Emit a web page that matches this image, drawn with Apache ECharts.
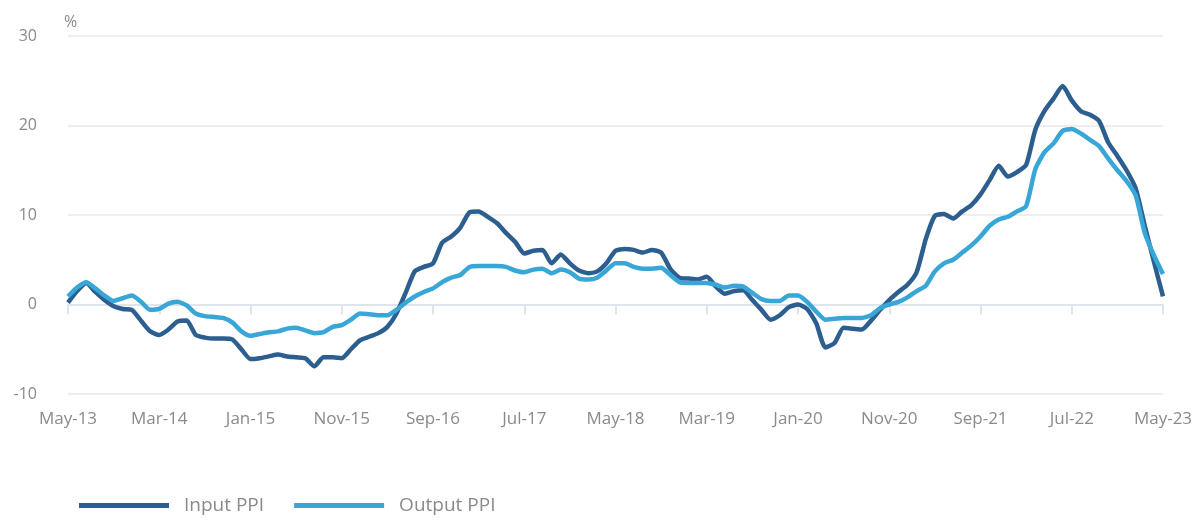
<!DOCTYPE html>
<html>
<head>
<meta charset="utf-8">
<script src="https://cdn.jsdelivr.net/npm/echarts@6/dist/echarts.min.js"></script>
<style>
  html, body { margin: 0; padding: 0; background: #ffffff; }
  #chart { width: 1204px; height: 522px; }
</style>
</head>
<body>
<div id="chart"></div>
<script>
// Monthly year-on-year change in producer price indices, May 2013 to May 2023 (%)
const monthNames = ['Jan','Feb','Mar','Apr','May','Jun','Jul','Aug','Sep','Oct','Nov','Dec'];
const startYear = 2013, startMonth = 4, monthCount = 121;

const categories = [];
for (let k = 0; k < monthCount; k++) {
  const m = (startMonth + k) % 12;
  const y = startYear + Math.floor((startMonth + k) / 12);
  categories.push(monthNames[m] + '-' + String(y % 100).padStart(2, '0'));
}

const inputPPI = [
  0.2, 1.5, 2.4, 1.4, 0.5, -0.2, -0.5, -0.6, -1.8, -3.0,
  -3.4, -2.8, -1.9, -1.8, -3.4, -3.7, -3.8, -3.8, -3.9, -5.0,
  -6.1, -6.0, -5.8, -5.6, -5.8, -5.9, -6.0, -6.9, -5.9, -5.9,
  -6.0, -5.0, -4.0, -3.6, -3.2, -2.5, -1.0, 1.3, 3.7, 4.2,
  4.6, 6.9, 7.6, 8.6, 10.3, 10.4, 9.8, 9.1, 8.0, 7.0,
  5.7, 6.0, 6.1, 4.6, 5.6, 4.6, 3.8, 3.5, 3.7, 4.6,
  6.0, 6.2, 6.1, 5.8, 6.1, 5.8, 4.0, 3.0, 2.9, 2.8,
  3.1, 2.0, 1.2, 1.5, 1.6, 0.5, -0.6, -1.7, -1.2, -0.3,
  0.0, -0.5, -2.1, -4.8, -4.3, -2.6, -2.7, -2.8, -1.8, -0.6,
  0.5, 1.4, 2.2, 3.6, 7.3, 9.9, 10.1, 9.6, 10.4, 11.1,
  12.3, 13.9, 15.5, 14.3, 14.8, 15.6, 19.5, 21.6, 23.0, 24.4,
  22.8, 21.6, 21.2, 20.5, 18.1, 16.6, 15.0, 13.0, 8.8, 4.8,
  0.9
];

const outputPPI = [
  0.9, 1.9, 2.5, 1.8, 1.0, 0.4, 0.7, 1.0, 0.3, -0.6,
  -0.5, 0.1, 0.3, -0.1, -1.0, -1.3, -1.4, -1.5, -2.0, -3.0,
  -3.5, -3.3, -3.1, -3.0, -2.7, -2.6, -2.9, -3.2, -3.1, -2.5,
  -2.3, -1.7, -1.0, -1.1, -1.2, -1.2, -0.6, 0.2, 0.9, 1.4,
  1.8, 2.5, 3.0, 3.3, 4.2, 4.3, 4.3, 4.3, 4.2, 3.8,
  3.6, 3.9, 4.0, 3.5, 3.9, 3.6, 2.9, 2.8, 3.0, 3.8,
  4.6, 4.6, 4.2, 4.0, 4.0, 4.1, 3.3, 2.5, 2.4, 2.4,
  2.4, 2.2, 1.9, 2.1, 2.0, 1.3, 0.6, 0.4, 0.4, 1.0,
  1.0, 0.3, -0.8, -1.7, -1.6, -1.5, -1.5, -1.5, -1.2, -0.4,
  0.0, 0.3, 0.8, 1.5, 2.1, 3.7, 4.6, 5.0, 5.8, 6.6,
  7.6, 8.8, 9.5, 9.8, 10.4, 11.0, 15.1, 17.0, 18.0, 19.4,
  19.6, 19.1, 18.4, 17.7, 16.3, 15.0, 13.8, 12.2, 8.0, 5.5,
  3.4
];

const yTicks = { min: -10, max: 30, step: 10 };

const fontFamily = '"Open Sans", "Noto Sans", sans-serif';
const chart = echarts.init(document.getElementById('chart'), null, { renderer: 'canvas' });

chart.setOption({
  backgroundColor: '#ffffff',
  animation: false,
  textStyle: { fontFamily: fontFamily },
  grid: { left: 68, right: 41, top: 36, bottom: 128, containLabel: false },
  legend: {
    left: 74,
    bottom: 2,
    icon: 'rect',
    itemWidth: 90,
    itemHeight: 5,
    itemGap: 30,
    textStyle: { color: '#8a8a8a', fontSize: 19, fontFamily: fontFamily, padding: [0, 0, 0, 10] },
    data: ['Input PPI', 'Output PPI']
  },
  xAxis: {
    type: 'category',
    data: categories,
    boundaryGap: false,
    axisLine: { lineStyle: { color: '#dfe5ec', width: 2 } },
    axisTick: { show: true, interval: 9, length: 10, lineStyle: { color: '#dfe5ec', width: 2 } },
    axisLabel: { interval: 9, color: '#8a8a8a', fontSize: 17, margin: 17, fontFamily: fontFamily },
    splitLine: { show: false }
  },
  yAxis: {
    type: 'value',
    min: yTicks.min,
    max: yTicks.max,
    interval: yTicks.step,
    name: '%',
    nameLocation: 'end',
    nameGap: 6,
    nameTextStyle: { color: '#8a8a8a', fontSize: 16, align: 'left', padding: [0, 0, 0, -4] },
    axisLine: { show: false },
    axisTick: { show: false },
    axisLabel: { color: '#8a8a8a', fontSize: 16, margin: 31, fontFamily: fontFamily },
    splitLine: { lineStyle: { color: '#eeeeee', width: 2 } }
  },
  series: [
    {
      name: 'Input PPI',
      type: 'line',
      data: inputPPI,
      showSymbol: false,
      smooth: 0.2,
      color: '#2c5e8f',
      lineStyle: { color: '#2c5e8f', width: 4.5, join: 'round' },
      z: 2
    },
    {
      name: 'Output PPI',
      type: 'line',
      data: outputPPI,
      showSymbol: false,
      smooth: 0.2,
      color: '#38a6d6',
      lineStyle: { color: '#38a6d6', width: 4.5, join: 'round' },
      z: 3
    }
  ]
});
</script>
</body>
</html>
